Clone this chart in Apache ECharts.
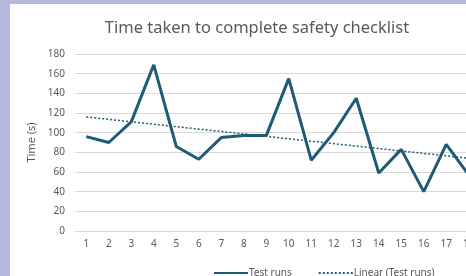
<!DOCTYPE html>
<html>
<head>
<meta charset="UTF-8">
<title>Time taken to complete safety checklist</title>
<script src="https://cdn.jsdelivr.net/npm/echarts@6/dist/echarts.min.js"></script>
<style>
	html, body {
		margin: 0;
		padding: 0;
		width: 466px;
		height: 276px;
		overflow: hidden;
		background: #b4b9dd;
	}

	#main {
		position: absolute;
		left: 10px;
		top: 4px;
		width: 456px;
		height: 272px;
		background: #ffffff;
	}
</style>
</head>

<body>
	<div id="main"></div>
</body>
<script type="text/javascript">
	// 数据
	var runs = ['1', '2', '3', '4', '5', '6', '7', '8', '9', '10', '11', '12', '13', '14', '15', '16', '17', '18'];
	var times = [96, 90, 111, 169, 86, 73, 95, 97, 97, 155, 72, 100, 135, 59, 83, 40, 88, 57];
	// trend line: value at the first run and at the last run
	var trendStart = 116;
	var trendEnd = 74;
	var yTicks = [0, 20, 40, 60, 80, 100, 120, 140, 160, 180];

	var trend = runs.map(function (r, i) {
		if (i === 0) return trendStart;
		if (i === runs.length - 1) return trendEnd;
		return null;
	});

	var grey = '#595959';
	var teal = '#1f5b74';
	var font = 'Noto Sans';

	var myChart = echarts.init(document.getElementById('main'));

	myChart.setOption({
		animation: false,
		title: {
			text: 'Time taken to complete safety checklist',
			left: 242,
			textAlign: 'center',
			top: 11,
			textStyle: {
				color: grey,
				fontSize: 16.5,
				fontWeight: 'normal',
				fontFamily: font
			}
		},
		legend: {
			left: 198,
			top: 259,
			itemGap: 26,
			itemWidth: 34,
			itemHeight: 8,
			itemStyle: { opacity: 0 },
			textStyle: {
				color: grey,
				fontSize: 10,
				fontFamily: font,
				padding: [0, 0, 0, -4]
			},
			data: ['Test runs', 'Linear (Test runs)']
		},
		grid: {
			left: 65,
			top: 50,
			width: 405,
			height: 177,
			outerBoundsMode: 'none'
		},
		xAxis: {
			type: 'category',
			data: runs,
			boundaryGap: true,
			axisLine: { lineStyle: { color: '#d9d9d9' } },
			axisTick: { show: false },
			axisLabel: {
				color: grey,
				fontSize: 10,
				fontFamily: font,
				margin: 8
			}
		},
		yAxis: {
			type: 'value',
			min: yTicks[0],
			max: yTicks[yTicks.length - 1],
			interval: 20,
			name: 'Time (s)',
			nameLocation: 'middle',
			nameGap: 34,
			nameTextStyle: {
				color: grey,
				fontSize: 11,
				fontFamily: font
			},
			axisLine: { show: false },
			axisTick: { show: false },
			splitLine: { lineStyle: { color: '#d9d9d9' } },
			axisLabel: {
				color: grey,
				fontSize: 10,
				fontFamily: font,
				margin: 10
			}
		},
		series: [
			{
				name: 'Test runs',
				type: 'line',
				data: times,
				showSymbol: false,
				symbol: 'none',
				color: teal,
				lineStyle: { color: teal, width: 3 }
			},
			{
				name: 'Linear (Test runs)',
				type: 'line',
				data: trend,
				connectNulls: true,
				showSymbol: false,
				symbol: 'none',
				color: teal,
				lineStyle: { color: teal, width: 1.5, type: [2, 2] }
			}
		]
	});
</script>

</html>
